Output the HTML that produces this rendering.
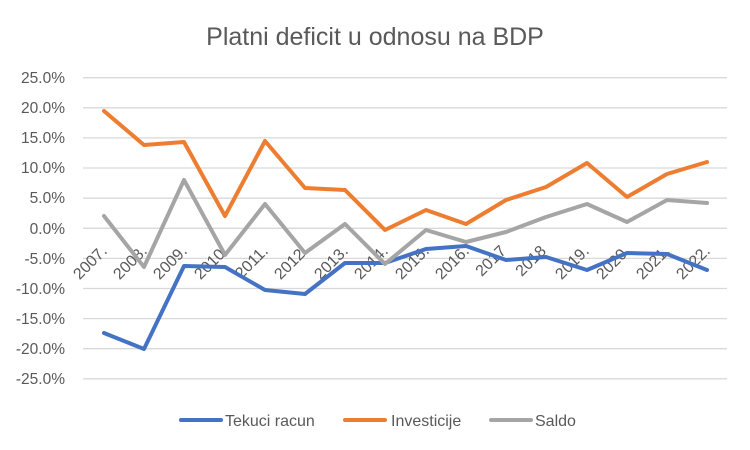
<!DOCTYPE html>
<html><head><meta charset="utf-8"><style>body{margin:0;background:#fff}svg{display:block;font-family:"Liberation Sans",sans-serif}</style></head>
<body>
<svg width="750" height="450" xmlns="http://www.w3.org/2000/svg">
<rect width="750" height="450" fill="#fff"/>
<text x="375" y="45" text-anchor="middle" font-size="25" fill="#595959">Platni deficit u odnosu na BDP</text>
<g stroke="#d9d9d9" stroke-width="1.3">
<line x1="83" x2="727" y1="77.7" y2="77.7"/><line x1="83" x2="727" y1="107.8" y2="107.8"/>
<line x1="83" x2="727" y1="137.9" y2="137.9"/><line x1="83" x2="727" y1="168" y2="168"/>
<line x1="83" x2="727" y1="198.2" y2="198.2"/><line x1="83" x2="727" y1="228.3" y2="228.3"/>
<line x1="83" x2="727" y1="258.4" y2="258.4"/><line x1="83" x2="727" y1="288.5" y2="288.5"/>
<line x1="83" x2="727" y1="318.6" y2="318.6"/><line x1="83" x2="727" y1="348.7" y2="348.7"/>
<line x1="83" x2="727" y1="378.8" y2="378.8"/>
</g>
<g font-size="15.5" fill="#595959" text-anchor="end">
<text x="65" y="83">25.0%</text><text x="65" y="113">20.0%</text><text x="65" y="143">15.0%</text>
<text x="65" y="173">10.0%</text><text x="65" y="203">5.0%</text><text x="65" y="234">0.0%</text>
<text x="65" y="264">-5.0%</text><text x="65" y="294">-10.0%</text><text x="65" y="324">-15.0%</text>
<text x="65" y="354">-20.0%</text><text x="65" y="384">-25.0%</text>
</g>
<g font-size="16" fill="#595959" text-anchor="end">
<text transform="translate(108,252) rotate(-45)">2007.</text>
<text transform="translate(148,252) rotate(-45)">2008.</text>
<text transform="translate(188,252) rotate(-45)">2009.</text>
<text transform="translate(229,252) rotate(-45)">2010.</text>
<text transform="translate(269,252) rotate(-45)">2011.</text>
<text transform="translate(309,252) rotate(-45)">2012.</text>
<text transform="translate(349,252) rotate(-45)">2013.</text>
<text transform="translate(389,252) rotate(-45)">2014.</text>
<text transform="translate(430,252) rotate(-45)">2015.</text>
<text transform="translate(470,252) rotate(-45)">2016.</text>
<text transform="translate(507,252) rotate(-45)">2017</text>
<text transform="translate(547,252) rotate(-45)">2018</text>
<text transform="translate(590,252) rotate(-45)">2019.</text>
<text transform="translate(631,252) rotate(-45)">2020.</text>
<text transform="translate(671,252) rotate(-45)">2021.</text>
<text transform="translate(711,252) rotate(-45)">2022.</text>
</g>
<g fill="none" stroke-width="4" stroke-linejoin="round" stroke-linecap="round">
<polyline stroke="#4472c4" points="104,333 144,349 184,266 225,267 265,290 305,294 345,263 385,263 426,249 466,246 506,260 546,257 587,270 627,253 667,254 707,270"/>
<polyline stroke="#ed7d31" points="104,111 144,145 184,142 225,216 265,141 305,188 345,190 385,230 426,210 466,224 506,200 546,187 587,163 627,197 667,174 707,162"/>
<polyline stroke="#a5a5a5" points="104,216 144,267 184,180 225,255 265,204 305,253 345,224 385,264 426,230 466,242 506,232 546,217 587,204 627,222 667,200 707,203"/>
</g>
<g stroke-width="4" stroke-linecap="round">
<line x1="181" x2="221" y1="420" y2="420" stroke="#4472c4"/>
<line x1="345" x2="385" y1="420" y2="420" stroke="#ed7d31"/>
<line x1="491" x2="531" y1="420" y2="420" stroke="#a5a5a5"/>
</g>
<g font-size="16" fill="#595959">
<text x="225" y="426">Tekuci racun</text><text x="391" y="426">Investicije</text><text x="535" y="426">Saldo</text>
</g>
</svg>
</body></html>
